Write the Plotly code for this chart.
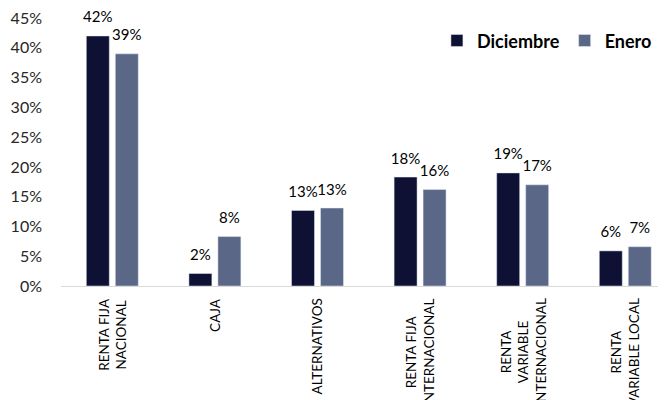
import plotly.graph_objects as go

categories = ["RENTA FIJA<br>NACIONAL", "CAJA", "ALTERNATIVOS",
              "RENTA FIJA<br>INTERNACIONAL", "RENTA<br>VARIABLE<br>INTERNACIONAL",
              "RENTA<br>VARIABLE LOCAL"]
diciembre = [42.0, 2.1, 12.7, 18.3, 19.0, 5.9]
enero = [39.0, 8.3, 13.1, 16.2, 17.0, 6.6]
y_ticks = [0, 5, 10, 15, 20, 25, 30, 35, 40, 45]
y_tick_labels = ["0%", "5%", "10%", "15%", "20%", "25%", "30%", "35%", "40%", "45%"]

FONT = "Lato"
x_idx = list(range(len(categories)))

fig = go.Figure()
fig.add_trace(go.Bar(name="Diciembre", x=x_idx, y=diciembre, marker_color="#0e1133",
                     offsetgroup="d", hoverinfo="skip"))
fig.add_trace(go.Bar(name="Enero", x=x_idx, y=enero, marker_color="#5a6787",
                     offsetgroup="e", hoverinfo="skip"))
# value labels, grouped like the bars
for name, vals in (("Diciembre", diciembre), ("Enero", enero)):
    fig.add_trace(go.Scatter(
        x=x_idx, y=vals, mode="markers+text", texttemplate="%{y:.0f}%",
        textposition="top center", offsetgroup=name[0].lower(),
        marker=dict(size=14, opacity=0), showlegend=False, hoverinfo="skip",
        textfont=dict(family=FONT, size=15, color="#000000"), cliponaxis=False))

for i, c in enumerate(categories):
    fig.add_annotation(x=i, y=0, xref="x", yref="paper", text=c, showarrow=False,
                       textangle=-90, align="center", xanchor="center", yanchor="top",
                       yshift=-10, font=dict(family=FONT, size=13.5, color="#000000"))

# page body has an 8px margin: figure is shifted by (8, 8)
fig.update_layout(
    width=658, height=392,
    margin=dict(l=53, r=0, t=10, b=114, autoexpand=False),
    paper_bgcolor="white", plot_bgcolor="white",
    barmode="group", bargap=0.435, bargroupgap=0.207,
    scattermode="group", scattergap=0.435,
    showlegend=True,
    legend=dict(orientation="h", x=0.985, xanchor="right", y=0.915, yanchor="middle",
                font=dict(family=FONT, size=18, color="#000000", weight="bold"),
                itemwidth=30, bgcolor="rgba(0,0,0,0)", traceorder="normal"),
    xaxis=dict(range=[-0.5, 5.397], showticklabels=False, showgrid=False,
               showline=True, linecolor="#d9d9d9", linewidth=1, ticks="",
               zeroline=False, fixedrange=True, automargin=False),
    yaxis=dict(range=[0, 45.02], tickvals=y_ticks, ticktext=y_tick_labels, showgrid=False,
               zeroline=False, showline=False, ticks="", automargin=False,
               ticklabeloverflow="allow",
               tickfont=dict(family=FONT, size=16, color="#262626"),
               ticklabelstandoff=18),
)

fig.write_html("out.html")
